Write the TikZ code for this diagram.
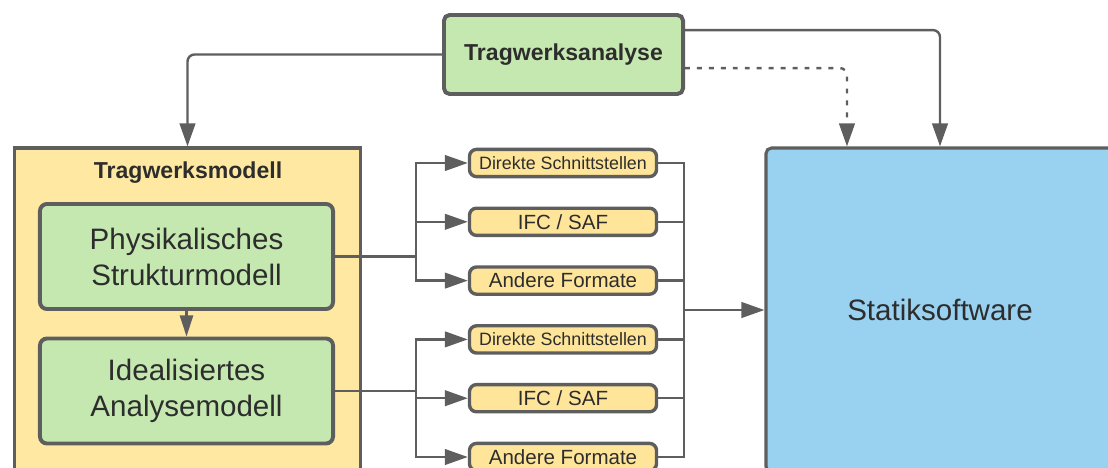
\documentclass[tikz,border=0pt]{standalone}
\usepackage{fontspec}
\setmainfont{Liberation Sans}
\usetikzlibrary{positioning,arrows.meta,calc}
\definecolor{cModel}{RGB}{255,233,162}
\definecolor{cFormat}{RGB}{255,229,153}
\definecolor{cGreen}{RGB}{197,232,176}
\definecolor{cSoft}{RGB}{153,209,240}
\definecolor{eLine}{RGB}{94,94,94}
\definecolor{tDark}{RGB}{45,45,45}
\tikzset{
  ana/.style   ={draw=eLine,fill=cGreen,line width=2.8pt,rounded corners=4pt,text=tDark,
                 font=\fontsize{16.4}{19.7}\selectfont\bfseries,
                 minimum width=5.975cm,minimum height=1.975cm},
  model/.style ={draw=eLine,fill=cModel,line width=2.2pt,
                 minimum width=8.65cm,minimum height=8.55cm},
  gbox/.style  ={draw=eLine,fill=cGreen,line width=2.8pt,rounded corners=5pt,align=center,
                 text=tDark,font=\fontsize{21}{25.6}\selectfont,
                 minimum width=7.325cm,minimum height=2.625cm},
  fmt/.style   ={draw=eLine,fill=cFormat,line width=2.4pt,rounded corners=5pt,text=tDark,
                 font=\fontsize{14.6}{17}\selectfont,inner sep=0pt,
                 minimum width=4.675cm,minimum height=0.68cm},
  soft/.style  ={draw=eLine,fill=cSoft,line width=2.2pt,rounded corners=4pt,text=tDark,
                 font=\fontsize{21}{25.6}\selectfont,
                 minimum width=8.7cm,minimum height=8.1cm},
  ttl/.style   ={text=tDark,font=\fontsize{16.4}{19.7}\selectfont\bfseries},
  ed/.style    ={-{Triangle[length=5.75mm,width=3.9mm]},draw=eLine,line width=1.7pt},
  ln/.style    ={draw=eLine,line width=1.7pt},
  opt/.style   ={dash pattern=on 3.5pt off 5pt},
}

\begin{document}
\begin{tikzpicture}[x=0.025cm,y=-0.025cm]
\clip (0,0) rectangle (1108,467);

\node[ana] (analyse) at (563.5,54.5) {Tragwerksanalyse};

\node[model] (model) at (187.5,319) {};
\node[ttl] (modeltitle) at (188,173) {Tragwerksmodell};

\node[gbox] (phys)  at (186.5,256.5) {Physikalisches\\Strukturmodell};
\node[gbox] (ideal) at (186.5,391)   {Idealisiertes\\Analysemodell};

\node[fmt,font=\fontsize{12.7}{15}\selectfont] (f1) at (563,163) {Direkte Schnittstellen};
\node[fmt] (f2) at (563,221.8) {IFC / SAF};
\node[fmt] (f3) at (563,280.6) {Andere Formate};
\node[fmt,font=\fontsize{12.7}{15}\selectfont] (f4) at (563,339.4) {Direkte Schnittstellen};
\node[fmt] (f5) at (563,398.2) {IFC / SAF};
\node[fmt] (f6) at (563,457)   {Andere Formate};

\node[soft] (soft) at (940,310) {Statiksoftware};

% top connections
\draw[ed,rounded corners=5pt] (analyse.west) -| (model.north);
\draw[ed,rounded corners=5pt] ([yshift=0.61cm]analyse.east) -| (soft.north);
\draw[ed,opt,rounded corners=5pt] ([yshift=-0.34cm]analyse.east) -| ([xshift=-2.325cm]soft.north);

\draw[ed,-{Triangle[length=5.3mm,width=3.3mm]}] (phys) -- (ideal);

% branches to the formats
\coordinate (b1) at (phys.east -| 416,0);
\coordinate (b2) at (ideal.east -| 416,0);
\draw[ln] (phys.east) -- (b1);
\draw[ln] (ideal.east) -- (b2);
\draw[ed] (b1) |- (f1.west);
\draw[ed] (b1) |- (f2.west);
\draw[ed] (b1) |- (f3.west);
\draw[ed] (b2) |- (f4.west);
\draw[ed] (b2) |- (f5.west);
\draw[ed] (b2) |- (f6.west);

% collector
\coordinate (col) at (684,310);
\draw[ln] (f1.east) -| (col);
\draw[ln] (f2.east) -| (col);
\draw[ln] (f3.east) -| (col);
\draw[ln] (f4.east) -| (col);
\draw[ln] (f5.east) -| (col);
\draw[ln] (f6.east) -| (col);
\draw[ed] (col) -- (soft.west);

\end{tikzpicture}
\end{document}
